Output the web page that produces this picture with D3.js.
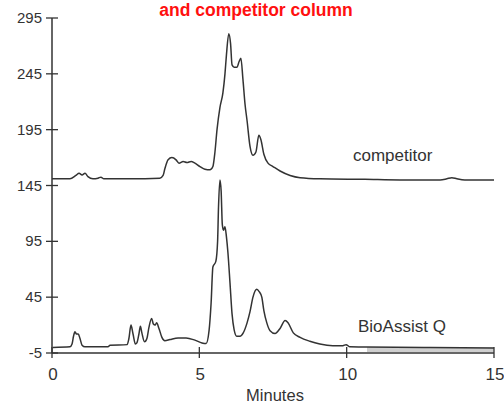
<!DOCTYPE html>
<html>
<head>
<meta charset="utf-8">
<script src="https://cdn.jsdelivr.net/npm/d3@7"></script>
<style>
  body { margin: 0; background: #fff; }
  svg { display: block; }
  .tick-label { font-family: "Liberation Sans Narrow", "Arial Narrow", "Liberation Sans", Arial, sans-serif; fill: #333; }
  .trace-label { font-family: "Liberation Sans", Arial, sans-serif; fill: #333; }
</style>
</head>
<body>
<div id="chart"></div>
<script>
"use strict";

// chromatogram: time in minutes, absorbance
const competitor_time = [0, 0.61, 0.81, 0.92, 1.02, 1.12, 1.22, 1.39, 1.56, 1.66, 1.76, 2.65, 3.66, 3.77, 3.83, 3.94,
    4.07, 4.21, 4.31, 4.45, 4.58, 4.72, 4.85, 5.02, 5.19, 5.36, 5.46, 5.53, 5.60, 5.70, 5.80, 5.87, 5.92, 6.00,
    6.06, 6.11, 6.18, 6.28, 6.35, 6.41, 6.48, 6.55, 6.62, 6.72, 6.82, 6.92, 7.02, 7.09, 7.19, 7.33, 7.50, 7.74,
    8.08, 8.42, 9.09, 10.62, 11.81, 13.17, 13.40, 13.57, 13.74, 14.01, 15.0];
const competitor_value = [151, 151, 154, 156, 154.5, 156, 153, 151, 151.5, 152.5, 151, 151, 151.5, 154, 160, 168,
    170, 168, 165, 166.5, 165.5, 166.5, 165, 162, 159.5, 159, 162, 175, 195, 215, 228, 245, 262, 281,
    272, 253, 251, 251, 256, 259, 240, 218, 203, 180, 172, 175, 190, 186, 173, 165, 162, 158,
    154, 152, 151, 150.5, 150, 150, 151, 152, 151, 150, 150];

const bioassist_time = [0.03, 0.61, 0.68, 0.73, 0.78, 0.83, 0.89, 0.95, 1.02, 1.12, 1.90, 1.97, 2.55, 2.61, 2.68,
    2.75, 2.83, 2.88, 2.95, 3.00, 3.05, 3.14, 3.22, 3.29, 3.38, 3.44, 3.50, 3.55, 3.63, 3.73, 3.83, 4.00, 4.28,
    4.55, 4.85, 5.09, 5.23, 5.33, 5.40, 5.46, 5.56, 5.62, 5.65, 5.70, 5.74, 5.78, 5.82, 5.87, 5.92, 5.97, 6.04,
    6.11, 6.18, 6.27, 6.38, 6.49, 6.62, 6.72, 6.82, 6.95, 7.03, 7.12, 7.19, 7.29, 7.40, 7.57, 7.74, 7.91, 8.01,
    8.19, 8.42, 8.75, 9.09, 9.53, 9.87, 9.98, 10.11, 10.69, 12.83, 15.0];
const bioassist_value = [0, 0.5, 3, 10, 14, 12, 12, 8, 2, 0.5, 0.5, 2, 2.5, 8, 20,
    12, 3, 4, 12, 19, 13, 5, 8, 18, 26, 21, 20, 22, 17, 9, 6, 7, 8.5,
    8.5, 6.5, 4, 3.5, 15, 40, 72, 77, 95, 125, 150, 140, 110, 105, 108, 99, 85, 58,
    30, 16, 10, 10, 13, 22, 32, 45, 52, 50, 45, 33, 22, 15, 12.5, 17, 24, 22,
    13, 9, 5.5, 3, 1.5, 1.5, 2.5, 0.5, 0.3, 0, -0.5];

const x_ticks = [0, 5, 10, 15];
const y_ticks = [-5, 45, 95, 145, 195, 245, 295];

const title_text = "and competitor column";
const x_title = "Minutes";
const label_competitor = "competitor";
const label_bioassist = "BioAssist Q";

const width = 504, height = 405;
const ink = "#333";

const svg = d3.select("#chart").append("svg")
    .attr("width", width)
    .attr("height", height);

const x = d3.scaleLinear().domain([0, 15]).range([52, 494]);
const y = d3.scaleLinear().domain([-5, 295]).range([353, 18]);

const competitor = competitor_time.map((t, i) => ({t: t, v: competitor_value[i]}));
const bioassist = bioassist_time.map((t, i) => ({t: t, v: bioassist_value[i]}));

// title (only its last line shows at the top edge)
svg.append("text")
    .attr("x", 256)
    .attr("y", 16)
    .attr("text-anchor", "middle")
    .style("font-family", "Liberation Sans, Arial, sans-serif")
    .style("font-weight", "bold")
    .style("font-size", "17.5px")
    .style("fill", "#ff1010")
    .text(title_text);

// grey smear under the late baseline of the lower trace
const smear = d3.area()
    .x(d => x(d.t))
    .y0(y(-4))
    .y1(d => y(d.v));
svg.append("path")
    .datum(bioassist.filter(d => d.t >= 10.69))
    .attr("d", smear)
    .style("fill", "#cfcfcf");

// axes
svg.append("line")
    .attr("x1", x(0)).attr("x2", x(0))
    .attr("y1", y(295)).attr("y2", y(-5))
    .style("stroke", ink).style("stroke-width", 1.5);
svg.append("line")
    .attr("x1", x(0)).attr("x2", x(15))
    .attr("y1", y(-5)).attr("y2", y(-5))
    .style("stroke", ink).style("stroke-width", 1.5);

svg.selectAll(".ytick").data(y_ticks).enter().append("line")
    .attr("class", "ytick")
    .attr("x1", x(0) - 6).attr("x2", x(0) + 6)
    .attr("y1", d => y(d)).attr("y2", d => y(d))
    .style("stroke", ink).style("stroke-width", 1.3);

svg.selectAll(".ylab").data(y_ticks).enter().append("text")
    .attr("class", "tick-label")
    .attr("x", 42)
    .attr("y", d => y(d) + 5)
    .attr("text-anchor", "end")
    .style("font-size", "15px")
    .text(d => d);

svg.selectAll(".xtick").data(x_ticks).enter().append("line")
    .attr("class", "xtick")
    .attr("x1", d => x(d)).attr("x2", d => x(d))
    .attr("y1", y(-5) - 6).attr("y2", y(-5) + 5)
    .style("stroke", ink).style("stroke-width", 1.3);

svg.selectAll(".xlab").data(x_ticks).enter().append("text")
    .attr("class", "tick-label")
    .attr("x", d => x(d) + 1)
    .attr("y", 380)
    .attr("text-anchor", "middle")
    .style("font-size", "17px")
    .text(d => d);

svg.append("text")
    .attr("class", "tick-label")
    .attr("x", 275)
    .attr("y", 401)
    .attr("text-anchor", "middle")
    .style("font-size", "16.5px")
    .text(x_title);

// traces
const line = d3.line()
    .x(d => x(d.t))
    .y(d => y(d.v))
    .curve(d3.curveMonotoneX);

[competitor, bioassist].forEach(function(series){
    svg.append("path")
        .datum(series)
        .attr("d", line)
        .style("fill", "none")
        .style("stroke", ink)
        .style("stroke-width", 1.5)
        .style("stroke-linejoin", "round");
});

svg.append("text")
    .attr("class", "trace-label")
    .attr("x", 353)
    .attr("y", 161)
    .style("font-size", "17px")
    .text(label_competitor);

svg.append("text")
    .attr("class", "trace-label")
    .attr("x", 358)
    .attr("y", 332)
    .style("font-size", "17px")
    .text(label_bioassist);
</script>
</body>
</html>
